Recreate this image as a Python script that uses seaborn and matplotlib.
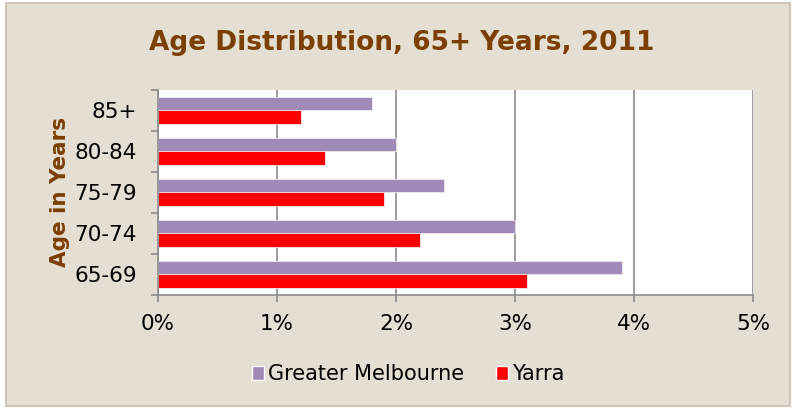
import pandas as pd
import matplotlib.pyplot as plt
import seaborn as sns
import matplotlib.ticker as ticker
from matplotlib.patches import Rectangle, Patch

ages = ["85+", "80-84", "75-79", "70-74", "65-69"]
greater_melbourne = [1.8, 2.0, 2.4, 3.0, 3.9]
yarra = [1.2, 1.4, 1.9, 2.2, 3.1]
series = ["Greater Melbourne", "Yarra"]

PURPLE = "#A08AB8"
RED = "#FF0000"
BROWN = "#7B3F00"
PANEL = "#E4DED3"
GREY = "#8C8C8C"


def plot_bars():
    data = pd.DataFrame({"Age": ages * 2,
                         "Series": [series[0]] * len(ages) + [series[1]] * len(ages),
                         "Share": greater_melbourne + yarra})

    sns.set_style("white")
    plt.rcParams['font.family'] = ['DejaVu Sans']

    fig = plt.figure(figsize=(7.96, 4.09), dpi=100)
    fig.patch.set_facecolor("white")
    fig.patches.append(Rectangle((0.008, 0.008), 0.984, 0.984, transform=fig.transFigure,
                                 facecolor=PANEL, edgecolor="#CFC6B5", linewidth=1.5, zorder=-1))

    ax = fig.add_axes([0.1985, 0.279, 0.7475, 0.501])
    sns.barplot(data=data, y="Age", x="Share", hue="Series", order=ages, hue_order=series,
                palette=[PURPLE, RED], width=0.66, saturation=1, ax=ax, legend=False,
                edgecolor="#F0E8F0", linewidth=0.6)

    ax.set_xlim(0, 5)
    ax.set_ylim(len(ages) - 0.5, -0.5)
    ax.xaxis.set_major_locator(ticker.MultipleLocator(1))
    ax.xaxis.set_major_formatter(ticker.FuncFormatter(lambda v, p: f"{v:.0f}%"))
    ax.set_yticks([i + 0.5 for i in range(-1, len(ages))], minor=True)

    ax.grid(axis="x", color=GREY, linewidth=1.2)
    ax.set_axisbelow(True)
    for s in ["top", "right"]:
        ax.spines[s].set_visible(False)
    for s in ["left", "bottom"]:
        ax.spines[s].set_color(GREY)
        ax.spines[s].set_linewidth(1.2)

    ax.tick_params(axis="y", which="major", left=False, length=0, labelsize=15.5,
                   labelcolor="black", pad=15)
    ax.tick_params(axis="y", which="minor", left=True, length=5, width=1.2, color=GREY,
                   direction="out")
    ax.tick_params(axis="x", which="major", bottom=True, length=5, width=1.2, color=GREY,
                   direction="out", labelsize=15.5, labelcolor="black", pad=9)

    ax.set_xlabel("")
    ax.set_ylabel("Age in Years", fontsize=15.5, fontweight="bold", color=BROWN, labelpad=3)
    fig.text(0.505, 0.895, "Age Distribution, 65+ Years, 2011", ha="center", va="center",
             fontsize=19, fontweight="bold", color=BROWN)

    handles = [Patch(facecolor=PURPLE, label=series[0]), Patch(facecolor=RED, label=series[1])]
    fig.legend(handles=handles, loc="center", bbox_to_anchor=(0.513, 0.085), ncol=2,
               frameon=False, fontsize=15, labelcolor="black", handlelength=0.6,
               handleheight=0.6, handletextpad=0.2, columnspacing=1.5)

    plt.savefig("out.png", dpi=100, facecolor=fig.get_facecolor())


plot_bars()
